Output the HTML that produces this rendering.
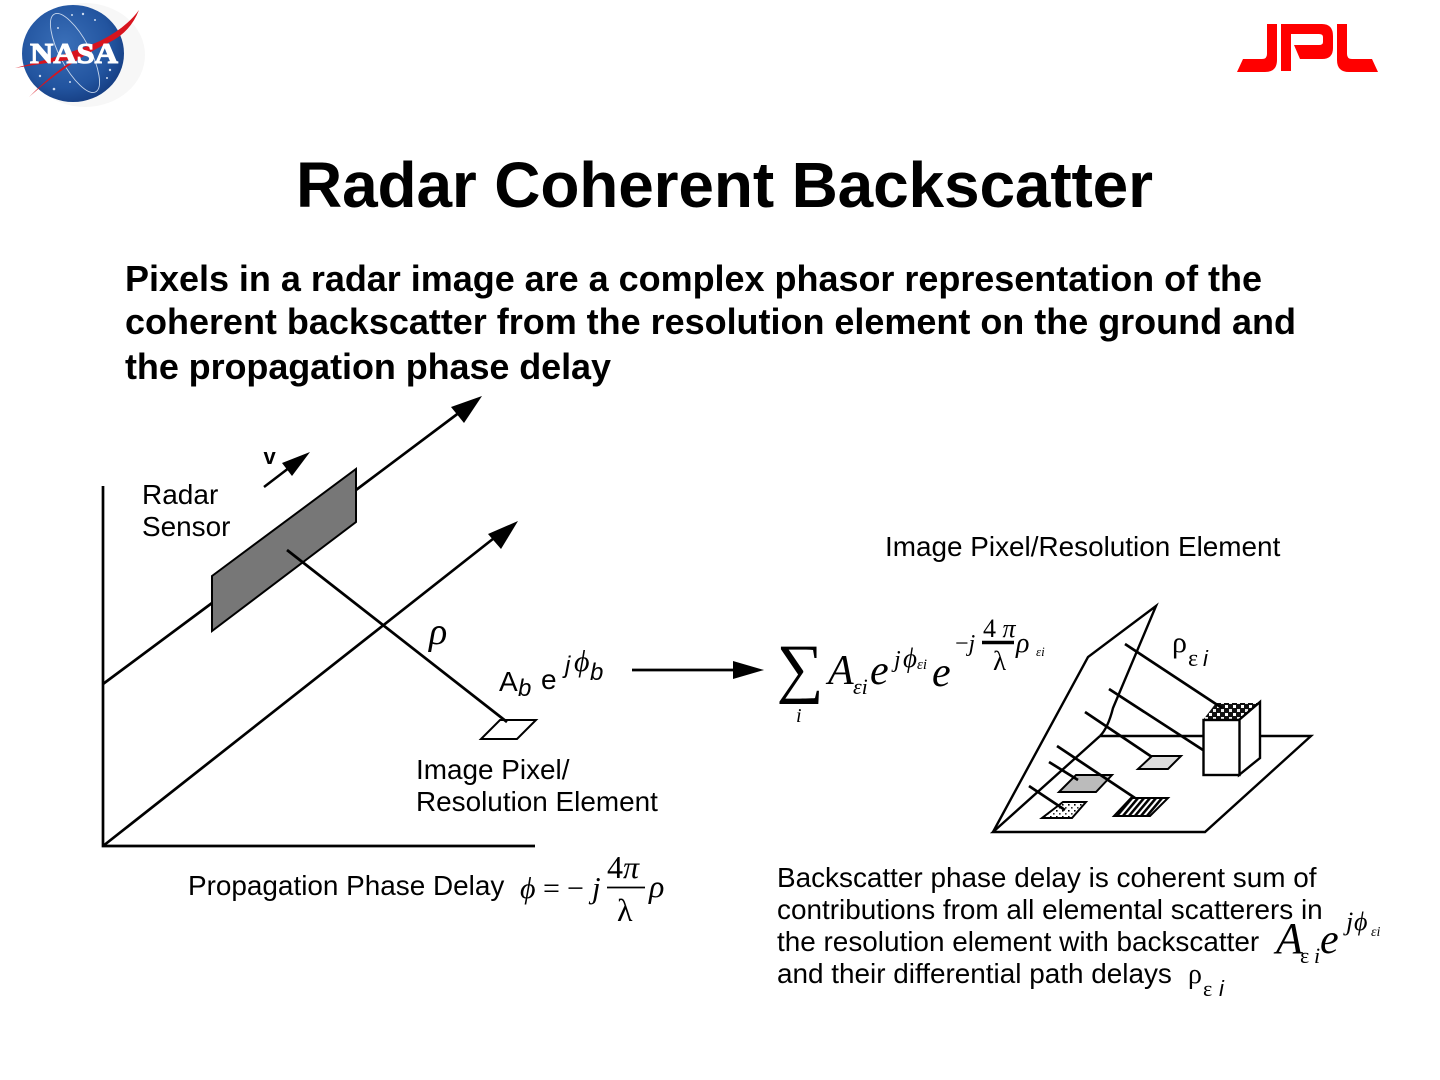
<!DOCTYPE html>
<html lang="en">
<head>
<meta charset="utf-8">
<title>Radar Coherent Backscatter</title>
<style>
html,body{margin:0;padding:0;background:#fff;width:1440px;height:1080px;overflow:hidden}
svg{display:block}
.s{font-family:"Liberation Sans",sans-serif;fill:#000}
.m{font-family:"Liberation Serif",serif;fill:#000;font-style:italic}
.r{font-family:"Liberation Serif",serif;fill:#000}
.l{stroke:#000;stroke-width:2.7;fill:none}
.d{stroke:#000;stroke-width:2.4;fill:none}
</style>
</head>
<body>
<svg width="1440" height="1080" viewBox="0 0 1440 1080" xmlns="http://www.w3.org/2000/svg">
<defs>
<radialGradient id="blue" cx="42%" cy="40%" r="65%">
<stop offset="0" stop-color="#3a6fb8"/><stop offset="0.7" stop-color="#22549f"/><stop offset="1" stop-color="#153c80"/>
</radialGradient>
<pattern id="stripes" width="6" height="6" patternUnits="userSpaceOnUse" patternTransform="skewX(-40)">
<rect width="3.4" height="6" fill="#000"/><rect x="3.4" width="2.6" height="6" fill="#fff"/>
</pattern>
<pattern id="checks" width="8" height="8" patternUnits="userSpaceOnUse">
<rect width="8" height="8" fill="#111"/><rect x="1" y="1" width="3" height="3" fill="#fff"/><rect x="5" y="5" width="3" height="3" fill="#eee"/>
</pattern>
<pattern id="dots" width="6" height="6" patternUnits="userSpaceOnUse">
<rect width="6" height="6" fill="#fff"/><rect x="0" y="0" width="1.6" height="1.6" fill="#000"/><rect x="3" y="3" width="1.6" height="1.6" fill="#333"/>
</pattern>
</defs>

<g>
<ellipse cx="85" cy="55" rx="60" ry="52" fill="#f7f7f7"/>
<ellipse cx="73" cy="53.500" rx="51" ry="48.500" fill="url(#blue)"/>
<ellipse cx="75" cy="53" rx="15" ry="44" fill="none" stroke="#c6d6ec" stroke-width="0.900" transform="rotate(-28 75 53)"/>
<g fill="#cfdcf0">
<circle cx="72" cy="15" r="1"/><circle cx="83" cy="14" r="1.200"/><circle cx="58" cy="28" r="1"/><circle cx="40" cy="76" r="1.200"/><circle cx="54" cy="89" r="1.300"/><circle cx="110" cy="70" r="1.200"/><circle cx="107" cy="78" r="1"/><circle cx="70" cy="82" r="1"/><circle cx="95" cy="20" r="1"/>
</g>
<path d="M15,68 Q70,54 100,41 Q126,28 139,10 Q130,33 108,43 Q68,62 29,97 Q56,70 76,59 Q45,63 15,68Z" fill="#d8141e"/>
<text x="30" y="63" font-family="Liberation Serif,serif" font-weight="700" font-size="29" fill="#fff" stroke="#fff" stroke-width="1.100" textLength="88" lengthAdjust="spacingAndGlyphs">NASA</text>
</g>

<path d="M1237,72L1243,59H1262Q1267,59 1267,54V24H1277V60Q1277,72 1265,72ZM1281,24H1322Q1333,24 1333,36V48Q1333,59 1322,59H1300L1294,45H1319Q1323,45 1323,42V37Q1323,34 1319,34H1291V71H1281ZM1337,24H1347V54Q1347,59 1352,59H1372L1378,72H1349Q1337,72 1337,60Z" fill="#ff0000"/>

<text class="s" x="296" y="207" font-size="64" font-weight="700" textLength="857">Radar Coherent Backscatter</text>

<g font-size="36" font-weight="700">
<text class="s" x="125" y="291" textLength="1137">Pixels in a radar image are a complex phasor representation of the</text>
<text class="s" x="125" y="334" textLength="1171">coherent backscatter from the resolution element on the ground and</text>
<text class="s" x="125" y="379" textLength="486">the propagation phase delay</text>
</g>

<g>
<path class="l" d="M103,486V846H535"/>
<path class="l" d="M103,684L212,603M356,490L468,406"/>
<path d="M482,396L451,407L464,423Z" fill="#000"/>
<path class="l" d="M103,846L503,531"/>
<path d="M518,521L488,534L501,549Z" fill="#000"/>
<path d="M212,576L356,469V522L212,631Z" fill="#777" stroke="#000" stroke-width="2"/>
<path class="l" d="M287,550L507,722"/>
<path d="M500,720H536L517,739H481Z" fill="none" stroke="#000" stroke-width="2"/>
<path d="M264,487L298,461" stroke="#000" stroke-width="2.500" fill="none"/>
<path d="M310,452L282,463L292,476Z" fill="#000"/>
<text class="s" x="263.500" y="464" font-size="22" font-weight="700">v</text>
<text class="s" x="142" y="504" font-size="28">Radar</text>
<text class="s" x="142" y="536" font-size="27.900">Sensor</text>
<text class="m" x="429" y="644" font-size="38">ρ</text>
<text class="s" x="416" y="779" font-size="27.900">Image Pixel/</text>
<text class="s" x="416" y="811" font-size="27.900">Resolution Element</text>
<text class="s" x="188" y="895" font-size="27.900">Propagation Phase Delay</text>
</g>

<g>
<text class="m" x="520" y="898" font-size="30">ϕ</text>
<text class="r" x="543" y="898" font-size="30">=</text>
<text class="r" x="567" y="898" font-size="30">−</text>
<text class="m" x="592" y="898" font-size="31">j</text>
<text class="r" x="607" y="878" font-size="32">4<tspan font-style="italic">π</tspan></text>
<path d="M607,887.500H645" stroke="#000" stroke-width="1.800"/>
<text class="r" x="617" y="921" font-size="32">λ</text>
<text class="m" x="649" y="897" font-size="32">ρ</text>
</g>

<g>
<text class="s" x="499" y="691" font-size="28">A</text>
<text class="s" x="518" y="696" font-size="24" font-style="italic">b</text>
<text class="s" x="541" y="689" font-size="28">e</text>
<text class="s" x="565" y="673" font-size="24" font-style="italic">j</text>
<text class="m" x="574" y="671" font-size="30">ϕ</text>
<text class="s" x="590" y="680" font-size="24" font-style="italic">b</text>
</g>

<path class="l" d="M632,670H736"/>
<path d="M733,661L764,670L733,679Z" fill="#000"/>

<g>
<text class="r" x="776.500" y="690" font-size="66">∑</text>
<text class="m" x="796" y="722" font-size="20">i</text>
<text class="m" x="828" y="684" font-size="42">A</text>
<text class="m" x="853" y="694" font-size="22">εi</text>
<text class="m" x="870" y="684" font-size="42">e</text>
<text class="m" x="894" y="667" font-size="24">j</text>
<text class="m" x="903" y="667" font-size="27">ϕ</text>
<text class="m" x="917" y="669" font-size="15">εi</text>
<text class="m" x="932" y="686" font-size="42">e</text>
<text class="r" x="955" y="651" font-size="24">−<tspan font-style="italic">j</tspan></text>
<text class="r" x="983" y="637" font-size="26">4<tspan font-style="italic"> π</tspan></text>
<path d="M982,642.500H1014" stroke="#000" stroke-width="3.500"/>
<text class="r" x="993" y="670" font-size="27">λ</text>
<text class="m" x="1016" y="652" font-size="28">ρ</text>
<text class="m" x="1036" y="656" font-size="13">εi</text>
</g>

<text class="s" x="885" y="556" font-size="27.900">Image Pixel/Resolution Element</text>

<g>
<path class="d" d="M1100,736H1311L1205,832H993L1100,736"/>
<path class="d" d="M993,832L1088,657L1156,606L1113,708Q1108,728 1100,736"/>
<path d="M1152,756H1181L1168,769H1138Z" fill="#ddd" stroke="#000" stroke-width="2"/>
<path d="M1076,775H1112L1096,792H1059Z" fill="#bbb" stroke="#000" stroke-width="2"/>
<path d="M1131,798H1168L1150,816H1114Z" fill="url(#stripes)" stroke="#000" stroke-width="2"/>
<path d="M1063,802H1086L1072,818H1042Z" fill="url(#dots)" stroke="#000" stroke-width="2"/>
<path d="M1203,720L1216,703H1260L1239,720Z" fill="url(#checks)"/>
<path d="M1239,720L1260,702V758L1239,775Z" fill="#fff" stroke="#000" stroke-width="2.400"/>
<rect x="1203.500" y="720" width="36" height="55" fill="#fff" stroke="#000" stroke-width="2.400"/>
<g class="l">
<path class="l" d="M1125,644L1222,708"/>
<path class="l" d="M1109,689L1203,750"/>
<path class="l" d="M1085,712L1152,757"/>
<path class="l" d="M1057,746L1135,798"/>
<path class="l" d="M1049,762L1078,780"/>
<path class="l" d="M1029,786L1065,810"/>
</g>
<text class="r" x="1172" y="652" font-size="30">ρ</text>
<text class="r" x="1188" y="666" font-size="24">ε</text>
<text class="s" x="1203" y="666" font-size="22" font-style="italic">i</text>
</g>

<g font-size="27.900">
<text class="s" x="777" y="887">Backscatter phase delay is coherent sum of</text>
<text class="s" x="777" y="919">contributions from all elemental scatterers in</text>
<text class="s" x="777" y="951">the resolution element with backscatter</text>
<text class="s" x="777" y="983">and their differential path delays</text>
</g>

<g>
<text class="m" x="1276" y="953" font-size="44">A</text>
<text class="r" x="1300" y="963" font-size="22">ε</text>
<text class="m" x="1314" y="963" font-size="22">i</text>
<text class="m" x="1320" y="953" font-size="42">e</text>
<text class="m" x="1346" y="930" font-size="26">j</text>
<text class="m" x="1354" y="930" font-size="26">ϕ</text>
<text class="m" x="1371" y="936" font-size="14">εi</text>
</g>
<g>
<text class="r" x="1188" y="983" font-size="28">ρ</text>
<text class="r" x="1203" y="996" font-size="22">ε</text>
<text class="s" x="1219" y="996" font-size="22" font-style="italic">i</text>
</g>
</svg>
</body>
</html>
